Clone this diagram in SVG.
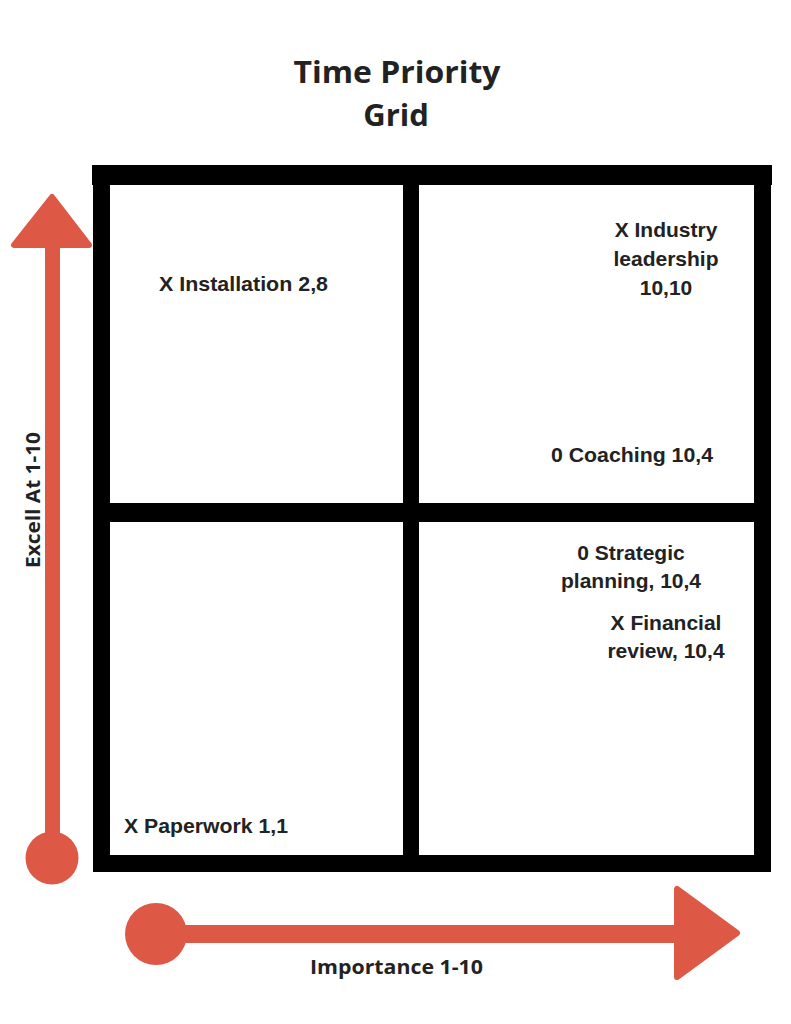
<svg xmlns="http://www.w3.org/2000/svg" width="791" height="1024" viewBox="0 0 791 1024">
<style>
.bar{fill:#000}
.red{fill:#DE5846}
.redj{fill:#DE5846;stroke:#DE5846;stroke-width:6;stroke-linejoin:round}
.lbl{font-family:"Liberation Sans",Arial,sans-serif;font-weight:bold;font-size:21px;fill:#222}
.os{font-family:"Open Sans","Liberation Sans",sans-serif;font-weight:bold;fill:#222}
</style>
<rect width="791" height="1024" fill="#fff"/>
<g id="title">
<text class="os" x="397" y="83" font-size="31" text-anchor="middle" textLength="207" lengthAdjust="spacingAndGlyphs">Time Priority</text>
<text class="os" x="396" y="126" font-size="31" text-anchor="middle">Grid</text>
</g>
<g id="grid">
<rect class="bar" x="92" y="165" width="680" height="20"/>
<rect class="bar" x="93" y="165" width="17" height="707"/>
<rect class="bar" x="754" y="165" width="17" height="707"/>
<rect class="bar" x="403" y="165" width="16" height="707"/>
<rect class="bar" x="93" y="503" width="678" height="19"/>
<rect class="bar" x="94" y="855" width="677" height="17"/>
</g>
<g id="connectors">
<g id="y-axis">
<rect class="red" x="45" y="240" width="15" height="620"/>
<polygon class="redj" points="52,197 14,245 89,245"/>
<circle class="red" cx="52" cy="858" r="26.5"/>
</g>
<g id="x-axis">
<rect class="red" x="156" y="925" width="522" height="18"/>
<circle class="red" cx="156" cy="934" r="31"/>
<polygon class="redj" points="677,889 677,977 737,933"/>
</g>
</g>
<g id="axis-labels">
<text class="os" font-size="19" transform="translate(40,568) rotate(-90)" textLength="136" lengthAdjust="spacingAndGlyphs">Excell At 1-10</text>
<text class="os" x="310" y="974" font-size="19" textLength="173" lengthAdjust="spacingAndGlyphs">Importance 1-10</text>
</g>
<g id="installation">
<text class="lbl" x="159" y="291" textLength="169" lengthAdjust="spacingAndGlyphs">X Installation 2,8</text>
</g>
<g id="industry">
<text class="lbl" x="666" y="237" text-anchor="middle">X Industry</text>
<text class="lbl" x="666" y="266" text-anchor="middle">leadership</text>
<text class="lbl" x="666" y="295" text-anchor="middle">10,10</text>
</g>
<g id="coaching">
<text class="lbl" x="551" y="462" textLength="162" lengthAdjust="spacingAndGlyphs">0 Coaching 10,4</text>
</g>
<g id="strategic">
<text class="lbl" x="631" y="560" text-anchor="middle">0 Strategic</text>
<text class="lbl" x="631" y="588" text-anchor="middle">planning, 10,4</text>
</g>
<g id="financial">
<text class="lbl" x="666" y="630" text-anchor="middle">X Financial</text>
<text class="lbl" x="666" y="658" text-anchor="middle">review, 10,4</text>
</g>
<g id="paperwork">
<text class="lbl" x="124" y="833" textLength="164" lengthAdjust="spacingAndGlyphs">X Paperwork 1,1</text>
</g>
</svg>
